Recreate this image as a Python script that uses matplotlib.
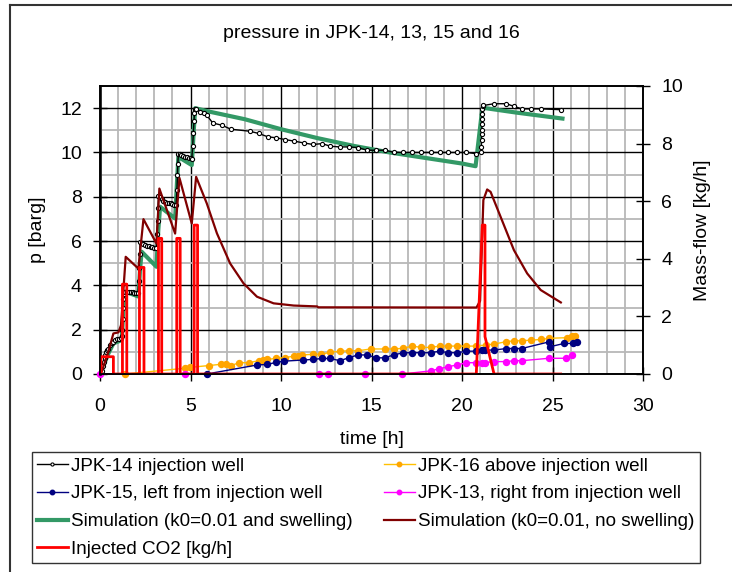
import numpy as np
import matplotlib
matplotlib.use('Agg')
import matplotlib.pyplot as plt
from matplotlib.lines import Line2D
from matplotlib.ticker import MultipleLocator

plt.rcParams['font.family'] = ['Liberation Sans', 'DejaVu Sans']

# JPK-14 injection well [barg]
t14 = [0.05, 0.1, 0.15, 0.2, 0.25, 0.3, 0.35, 0.4, 0.46, 0.55, 0.65, 0.74, 0.85, 0.95, 1.05, 1.15, 1.22,
       1.24, 1.26, 1.27, 1.29, 1.31,
       1.4, 1.5, 1.6, 1.7, 1.8, 1.9, 2.0, 2.1,
       2.15, 2.17, 2.19, 2.21,
       2.3, 2.4, 2.5, 2.6, 2.7, 2.8, 2.9, 3.0, 3.1,
       3.15, 3.18, 3.2, 3.23,
       3.3, 3.4, 3.5, 3.6, 3.7, 3.8, 3.9, 4.0, 4.1, 4.2,
       4.25, 4.28, 4.3, 4.33,
       4.4, 4.5, 4.6, 4.7, 4.8, 4.9, 5.0, 5.07,
       5.12, 5.16, 5.19, 5.22, 5.26,
       5.31, 5.53, 5.72, 5.9, 6.23, 6.73, 7.23, 8.26, 8.76, 9.26, 9.74, 10.24, 10.74,
       11.25, 11.77, 12.27, 12.73, 13.25, 13.74, 14.24, 14.76, 15.27, 15.72, 16.23,
       16.75, 17.25, 17.75, 18.26, 18.76, 19.24, 19.74, 20.24, 20.75,
       21.05, 21.07, 21.08, 21.09, 21.1, 21.1, 21.11, 21.12, 21.13, 21.15,
       21.18, 21.77, 22.45, 22.87, 23.3, 23.83, 24.39, 25.46]
p14 = [0.0, 0.15, 0.35, 0.55, 0.7, 0.85, 1.0, 1.08, 1.15, 1.3, 1.4, 1.45, 1.52, 1.57, 1.6, 1.62, 1.7,
       2.0, 2.5, 3.0, 3.4, 3.6,
       3.7, 3.72, 3.7, 3.7, 3.68, 3.67, 3.66, 3.64,
       4.2, 4.8, 5.4, 5.95,
       5.9, 5.85, 5.82, 5.8, 5.77, 5.75, 5.72, 5.7, 5.67,
       6.3, 6.9, 7.5, 8.05,
       8.0, 7.9, 7.82, 7.77, 7.74, 7.72, 7.7, 7.68, 7.65, 7.62,
       8.3, 9.0, 9.5, 9.95,
       9.92, 9.88, 9.84, 9.8, 9.78, 9.75, 9.73, 9.72,
       10.3, 10.9, 11.4, 11.8, 11.98,
       11.98, 11.83, 11.76, 11.68, 11.33, 11.23, 11.05, 10.96, 10.86, 10.71, 10.66, 10.58, 10.51,
       10.43, 10.36, 10.4, 10.28, 10.25, 10.25, 10.22, 10.1, 10.1, 10.1, 10.01,
       10.0, 10.0, 10.0, 10.0, 10.0, 10.0, 10.0, 10.0, 9.95,
       10.02, 10.25, 10.55, 10.85, 11.0, 11.3, 11.52, 11.75, 11.97, 12.08,
       12.12, 12.2, 12.2, 12.08, 11.97, 11.97, 11.97, 11.93]

# JPK-16 above injection well
t16 = [1.4, 4.7, 4.98, 6.0, 6.7, 6.95, 7.23, 7.69, 8.24, 8.76, 9.02, 9.23, 9.7, 10.2, 10.7, 10.92,
       11.16, 11.77, 12.23, 12.73, 13.25, 13.74, 14.24, 14.98, 15.72, 16.23, 16.75, 17.25, 17.75,
       18.26, 18.76, 19.24, 19.74, 20.24, 20.75, 21.3, 21.77, 22.45, 22.87, 23.3, 23.83, 24.39,
       24.81, 25.79, 26.1, 26.23]
p16 = [0.0, 0.26, 0.3, 0.38, 0.44, 0.44, 0.38, 0.51, 0.51, 0.6, 0.62, 0.66, 0.7, 0.74, 0.8, 0.82,
       0.86, 0.89, 0.89, 0.98, 1.03, 1.05, 1.05, 1.13, 1.13, 1.13, 1.16, 1.26, 1.2,
       1.2, 1.26, 1.26, 1.26, 1.26, 1.26, 1.31, 1.35, 1.46, 1.5, 1.5, 1.53, 1.56,
       1.61, 1.64, 1.73, 1.73]

# JPK-15, left from injection well
t15 = [5.9, 8.7, 9.23, 9.7, 10.17, 11.2, 11.77, 12.27, 12.73, 13.25, 13.74, 14.24, 14.76, 15.27,
       15.72, 16.23, 16.75, 17.25, 17.75, 18.26, 18.76, 19.24, 19.74, 20.24, 20.75, 21.12, 21.25,
       21.77, 22.45, 22.87, 23.3, 24.81, 24.86, 25.64, 26.16, 26.34]
p15 = [0.0, 0.41, 0.43, 0.52, 0.58, 0.63, 0.66, 0.7, 0.7, 0.6, 0.73, 0.86, 0.86, 0.73,
       0.73, 0.86, 0.96, 0.96, 0.96, 0.96, 1.03, 0.96, 0.96, 1.03, 1.03, 1.08, 1.08,
       1.08, 1.15, 1.15, 1.15, 1.45, 1.23, 1.38, 1.38, 1.43]

# JPK-13, right from injection well
t13 = [0.0, 4.7, 12.08, 12.6, 14.66, 16.7, 18.26, 18.72, 19.24, 19.74, 20.24, 20.75, 21.12, 21.25,
       21.77, 22.45, 22.87, 23.3, 24.81, 25.73, 26.05]
p13 = [0.0, 0.0, 0.0, 0.0, 0.0, 0.0, 0.14, 0.23, 0.33, 0.41, 0.51, 0.51, 0.51, 0.51,
       0.56, 0.56, 0.6, 0.6, 0.71, 0.71, 0.86]

# Simulation (k0=0.01 and swelling)
t_sw = [0.05, 0.2, 0.46, 0.74, 1.2, 1.3, 1.38, 2.12, 2.22, 2.3, 3.12, 3.22, 3.32, 4.15, 4.25, 4.33,
        5.07, 5.18, 5.26, 6.0, 8.0, 10.0, 12.0, 14.0, 16.0, 18.0, 20.0, 20.75, 21.12, 21.3, 23.0, 25.55]
p_sw = [0.0, 0.4, 0.92, 1.38, 1.53, 3.0, 3.72, 3.5, 4.8, 5.52, 4.84, 6.5, 7.55, 7.02, 8.6, 9.8,
        9.43, 11.0, 12.0, 11.85, 11.5, 11.05, 10.65, 10.3, 10.0, 9.75, 9.5, 9.38, 11.97, 12.0, 11.8, 11.53]

# Simulation (k0=0.01, no swelling)
t_ns = [0.05, 0.46, 0.74, 1.02, 1.16, 1.42, 2.12, 2.4, 3.12, 3.28, 4.15, 4.39, 5.07, 5.31, 5.9,
        6.46, 7.19, 7.93, 8.67, 9.59, 10.7, 12.0, 12.05, 20.8, 21.0, 21.18, 21.39, 21.58, 22.13,
        22.87, 23.6, 24.35, 25.46]
p_ns = [0.0, 1.0, 1.83, 1.88, 2.2, 5.29, 4.76, 6.99, 5.89, 8.37, 6.34, 8.85, 6.79, 8.9, 7.7,
        6.35, 4.99, 4.09, 3.49, 3.19, 3.09, 3.05, 3.01, 3.0, 3.3, 7.85, 8.33, 8.22, 7.1,
        5.59, 4.54, 3.79, 3.23]

# Injected CO2 [kg/h]
t_co2 = [0.0, 0.055, 0.055, 0.74, 0.74, 1.24, 1.24, 1.48, 1.48, 2.18, 2.18, 2.43, 2.43,
         3.23, 3.23, 3.41, 3.41, 4.24, 4.24, 4.43, 4.43, 5.2, 5.2, 5.39, 5.39,
         20.79, 21.12, 21.27, 21.27, 21.77, 25.45]
m_co2 = [0.0, 0.0, 0.6, 0.6, 0.0, 0.0, 3.12, 3.12, 0.0, 0.0, 3.7, 3.7, 0.0,
         0.0, 4.71, 4.71, 0.0, 0.0, 4.71, 4.71, 0.0, 0.0, 5.17, 5.17, 0.0,
         0.0, 5.17, 5.17, 1.3, 0.0, 0.0]

W, H = 732, 572
FS = 14
fig = plt.figure(figsize=(W / 100, H / 100), dpi=100)
ax = fig.add_axes([100 / W, 1 - 374 / H, 543 / W, 288 / H])
ax2 = ax.twinx()

# grid like the spreadsheet original
ax.set_xlim(0, 30)
ax.set_ylim(0, 13)
ax.xaxis.set_major_locator(MultipleLocator(5))
ax.xaxis.set_minor_locator(MultipleLocator(1))
ax.yaxis.set_major_locator(MultipleLocator(2))
ax.yaxis.set_minor_locator(MultipleLocator(1))
ax.grid(which='minor', color='#b8b8b8', lw=1.3)
ax.grid(which='major', color='black', lw=1.0)
ax.set_axisbelow(True)
ax.tick_params(which='minor', length=0)
ax.tick_params(which='major', direction='inout', length=10, width=1, labelsize=FS)
ax.tick_params(axis='y', pad=8)
ax.tick_params(axis='x', pad=12)

ax.plot(t16, p16, color='#FFC000', lw=1, marker='o', ms=4.3, mfc='#FFA500', mec='#FFA500',
        clip_on=False, label='JPK-16 above injection well')
ax.plot(t15, p15, color='#000080', lw=1, marker='o', ms=4.3, mfc='#000080', mec='#000080',
        clip_on=False, label='JPK-15, left from injection well')
ax.plot(t13, p13, color='#FF00FF', lw=1, marker='o', ms=4.3, mfc='#FF00FF', mec='#FF00FF',
        clip_on=False, label='JPK-13, right from injection well')
ax.plot(t_sw, p_sw, color='#339966', lw=3, label='Simulation (k0=0.01 and swelling)')
ax.plot(t14, p14, color='black', lw=1, marker='o', ms=3, mfc='white', mec='black', mew=0.8,
        label='JPK-14 injection well')
ax.plot(t_ns, p_ns, color='#800000', lw=1.6, label='Simulation (k0=0.01, no swelling)')

ax2.plot(t_co2, m_co2, color='#FF0000', lw=2, label='Injected CO2 [kg/h]')
ax2.set_ylim(0, 10)
ax2.yaxis.set_major_locator(MultipleLocator(2))
ax2.tick_params(direction='inout', length=10, width=1, labelsize=FS, pad=8)

for a in (ax, ax2):
    for s in a.spines.values():
        s.set_color('black')
        s.set_linewidth(1.2)
ax.spines['left'].set_linewidth(1.8)

ax.set_ylabel('p [barg]', fontsize=FS, labelpad=10)
ax2.set_ylabel('Mass-flow [kg/h]', fontsize=FS, labelpad=8)
ax.set_xlabel('time [h]', fontsize=FS, labelpad=12)
fig.text(0.508, 1 - 33 / H, 'pressure in JPK-14, 13, 15 and 16', ha='center', va='center',
         fontsize=FS)

# chart border (left and top edges visible)
fig.add_artist(Line2D([10 / W, 10 / W], [0, 1 - 5 / H], color='#333333', lw=1.5))
fig.add_artist(Line2D([10 / W, 1], [1 - 5 / H, 1 - 5 / H], color='#333333', lw=1.5))

h, l = ax.get_legend_handles_labels()
h2, l2 = ax2.get_legend_handles_labels()
order = ['JPK-14 injection well', 'JPK-15, left from injection well',
         'Simulation (k0=0.01 and swelling)', 'Injected CO2 [kg/h]',
         'JPK-16 above injection well', 'JPK-13, right from injection well',
         'Simulation (k0=0.01, no swelling)']
lookup = dict(zip(l + l2, h + h2))
leg = fig.legend([lookup[k] for k in order], order, loc='upper left',
                 bbox_to_anchor=(32 / W, 1 - 452 / H, 668 / W, 0), mode='expand', ncol=2,
                 fontsize=13.6, frameon=True, fancybox=False, edgecolor='black',
                 handlelength=1.6, handletextpad=0.2, labelspacing=0.56, borderpad=0.28,
                 borderaxespad=0, columnspacing=0.6, markerscale=0.75)
leg.get_frame().set_linewidth(1.0)

fig.savefig('out.png', dpi=100)
